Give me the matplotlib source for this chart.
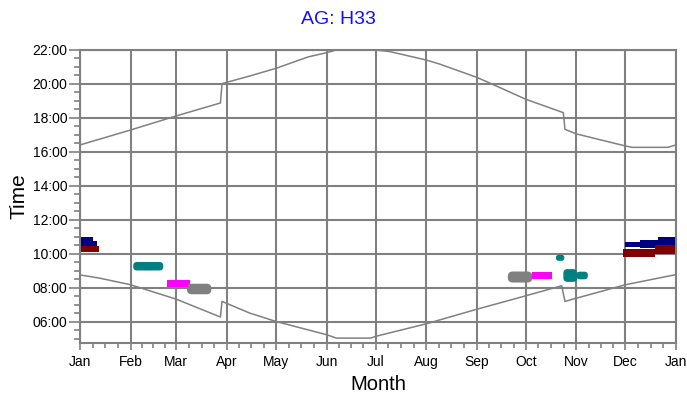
import matplotlib.pyplot as plt
from matplotlib.patches import FancyBboxPatch
from matplotlib.ticker import FixedLocator, MultipleLocator

plt.rcParams['font.family'] = ['Liberation Sans', 'DejaVu Sans']

GRID = "#808080"

# x axis: day of year, month boundaries
month_names = ["Jan", "Feb", "Mar", "Apr", "May", "Jun", "Jul",
               "Aug", "Sep", "Oct", "Nov", "Dec", "Jan"]
month_start = [0, 31, 59, 90, 120, 151, 181, 212, 243, 273, 304, 334, 365]

# sunset (hours, local clock time incl. DST)
sunset_day = [0, 31, 59, 86, 87, 90, 104, 120, 140, 151, 157, 172,
              186, 190, 212, 220, 243, 258, 273, 296, 297, 304, 334,
              338, 360, 365]
sunset_time = [16.41, 17.29, 18.12, 18.88, 20.02, 20.10, 20.47, 20.92,
               21.60, 21.84, 22.00, 22.08, 21.95, 21.90, 21.41, 21.18,
               20.39, 19.75, 19.10, 18.31, 17.33, 17.06, 16.35, 16.27,
               16.27, 16.41]

# sunrise (hours)
sunrise_day = [0, 12, 31, 59, 86, 87, 104, 120, 151, 157, 178, 181,
               212, 242, 273, 295, 297, 304, 334, 364]
sunrise_time = [8.76, 8.57, 8.18, 7.33, 6.28, 7.20, 6.51, 6.02, 5.24,
                5.04, 5.04, 5.14, 5.88, 6.71, 7.53, 8.12, 7.20, 7.39,
                8.18, 8.76]

# occupied slots: day range and time range
slot_start = [0.6, 0.6, 0.6, 32.6, 53.3, 65.5, 262.0, 276.6, 291.5,
              296.0, 304.0, 333.7, 343.0, 354.2, 332.7, 352.2]
slot_end = [8.2, 10.2, 11.4, 51.0, 67.6, 80.5, 277.0, 288.8, 296.6,
            304.5, 311.0, 343.0, 354.2, 364.4, 352.2, 364.4]
slot_low = [10.75, 10.49, 10.08, 9.02, 8.04, 7.62, 8.31, 8.51, 9.59,
            8.35, 8.50, 10.43, 10.33, 10.53, 9.81, 10.00]
slot_high = [10.97, 10.75, 10.47, 9.52, 8.45, 8.24, 8.96, 8.96, 9.94,
             9.10, 8.95, 10.67, 10.82, 10.98, 10.31, 10.53]
slot_color = ["#000080", "#000080", "#800000", "#008080", "#ff00ff",
              "#808080", "#808080", "#ff00ff", "#008080", "#008080",
              "#008080", "#000080", "#000080", "#000080", "#800000",
              "#800000"]
slot_round = [False, False, False, True, False, True, True, False, True,
              True, True, False, False, False, False, False]

fig = plt.figure(figsize=(6.87, 3.98), dpi=100)
ax = fig.add_axes([0.1164, 0.139, 0.8676, 0.7354])

ax.set_xlim(0, 365)
ax.set_ylim(4.77, 22)

ax.plot(sunset_day, sunset_time, color=GRID, lw=1.1, zorder=2)
ax.plot(sunrise_day, sunrise_time, color=GRID, lw=1.1, zorder=2)

# hours-per-day ratio in display space, so rounded corners stay circular
bb = ax.get_window_extent()
aspect = (bb.width / 365) / (bb.height / (22 - 4.77))

for s, e, lo, hi, c, r in zip(slot_start, slot_end, slot_low, slot_high,
                              slot_color, slot_round):
    if r:
        rs = min((hi - lo) / aspect * 0.45, (e - s) * 0.3)
        ax.add_patch(FancyBboxPatch(
            (s, lo), e - s, hi - lo,
            boxstyle=f"round,pad=0,rounding_size={rs}",
            mutation_aspect=aspect, facecolor=c, edgecolor="none", zorder=3))
    else:
        ax.barh((lo + hi) / 2, e - s, left=s, height=hi - lo, color=c,
                linewidth=0, zorder=3)

ax.xaxis.set_major_locator(FixedLocator(month_start))
ax.set_xticklabels(month_names)
minor_x = []
for a, b in zip(month_start[:-1], month_start[1:]):
    minor_x += [a + (b - a) * f for f in (0.25, 0.5, 0.75)]
ax.xaxis.set_minor_locator(FixedLocator(minor_x))

yt = list(range(6, 23, 2))
ax.set_yticks(yt)
ax.set_yticklabels([f"{h:02d}:00" for h in yt])
ax.yaxis.set_minor_locator(MultipleLocator(0.5))

ax.grid(True, which="major", color=GRID, lw=1.5)
ax.set_axisbelow(True)
for sp in ax.spines.values():
    sp.set_color(GRID)
    sp.set_linewidth(1.5)

ax.tick_params(axis="x", which="major", length=5, width=1.2, color=GRID,
               labelsize=10, pad=4)
ax.tick_params(axis="x", which="minor", length=3.5, width=1.2, color=GRID)
ax.tick_params(axis="y", which="major", length=8, width=1.2, color=GRID,
               labelsize=10, pad=1)
ax.tick_params(axis="y", which="minor", length=4, width=1.2, color=GRID)

ax.set_xlabel("Month", fontsize=14.5, labelpad=4)
ax.set_ylabel("Time", fontsize=15, labelpad=3)
fig.text(0.493, 0.952, "AG: H33", color="#1010ff", fontsize=14,
         ha="center", va="center")

fig.savefig("out.png", dpi=100)
